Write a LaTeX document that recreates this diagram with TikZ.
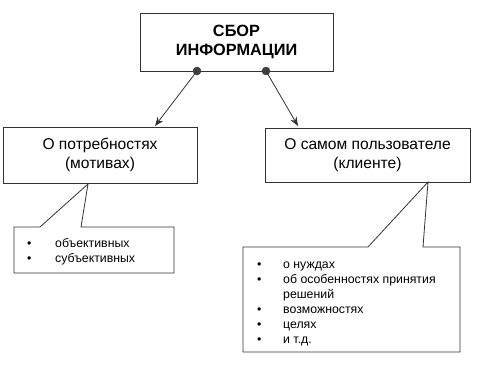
\documentclass[tikz,border=0pt]{standalone}
\usepackage{fontspec}
\setmainfont{Liberation Sans}
\usetikzlibrary{arrows.meta}
\tikzset{
  ln/.style={draw=black!80, line width=0.8pt},
  boxst/.style={ln, rectangle, inner sep=0pt, align=center},
  arr/.style={ln, -{Stealth[length=9pt,width=7pt,inset=3pt]}},
  dotst/.style={circle, fill=black!75, draw=black!80, inner sep=0pt, minimum size=8pt},
  listtxt/.style={anchor=north west, inner sep=0pt, align=left, font=\fontsize{12.3}{15}\selectfont}
}
\begin{document}
\begin{tikzpicture}[x=1pt,y=-1pt]
\useasboundingbox (0,0) rectangle (478,372);
% top box
\node[boxst, minimum width=193pt, minimum height=58pt, font=\bfseries\fontsize{16.3}{19}\selectfont] (top) at (236.5,42) {СБОР\\ИНФОРМАЦИИ};
% second row
\node[boxst, minimum width=194pt, minimum height=56pt, font=\fontsize{15.6}{19}\selectfont] (left) at (100,155) {О потребностях\\(мотивах)};
\node[boxst, minimum width=205pt, minimum height=54pt, font=\fontsize{15.6}{19}\selectfont] (right) at (367.5,155) {О самом пользователе\\(клиенте)};
% dots
\node[dotst] (d1) at (197,71) {};
\node[dotst] (d2) at (266,71) {};
\draw[arr] (d1.center) -- (155,126) coordinate (a1);
\draw[arr] (d2.center) -- (298,126) coordinate (a2);
% left callout
\coordinate (lt) at (88,184);
\draw[ln, fill=white] (14,227) -- (40,227) -- (lt) -- (81,227) -- (174,227) -- (174,273) -- (14,273) -- cycle;
\node[listtxt] (llist) at (27,237) {\begin{tabular}{@{}p{28pt}@{}l@{}}
\textbullet & объективных\\
\textbullet & субъективных
\end{tabular}};
% right callout
\coordinate (rt) at (428,182);
\draw[ln, fill=white] (243,247) -- (368,247) -- (rt) -- (423,247) -- (460,247) -- (460,352) -- (243,352) -- cycle;
\node[listtxt] (rlist) at (257,258) {\begin{tabular}{@{}p{26pt}@{}l@{}}
\textbullet & о нуждах\\
\textbullet & об особенностях принятия\\
 & решений\\
\textbullet & возможностях\\
\textbullet & целях\\
\textbullet & и т.д.
\end{tabular}};
\end{tikzpicture}
\end{document}
